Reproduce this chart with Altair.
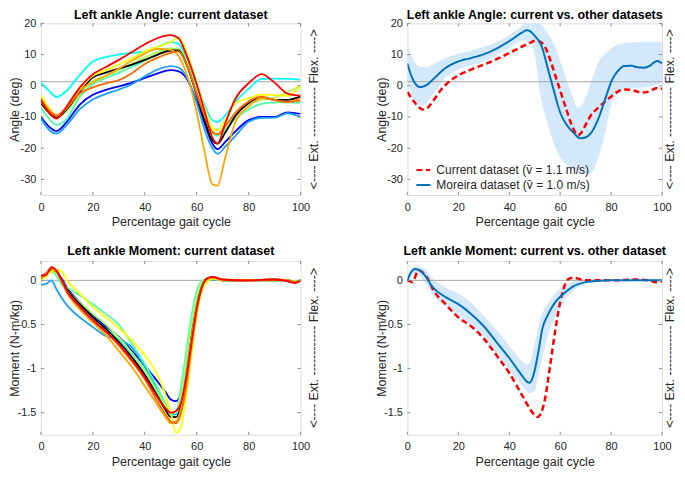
import altair as alt
import pandas as pd

FONT = "Liberation Sans"
TXT = "#262626"
FRAME = "#8c8c8c"
ZERO = "#a6a6a6"
BAND = "#d3e9fb"

# ---------------- data ----------------
x_ticks = [0, 20, 40, 60, 80, 100]
angle_ticks = [-30, -20, -10, 0, 10, 20]
moment_ticks = [-1.5, -1, -0.5, 0]
angle_domain = [-35, 20]
moment_domain = [-1.75, 0.22]
angle_ref_line = [1.3]
moment_ref_line = [0.0]

panel_titles = [
    "Left ankle Angle: current dataset",
    "Left ankle Angle: current vs. other datasets",
    "Left ankle Moment: current dataset",
    "Left ankle Moment: current vs. other dataset",
]
x_title = "Percentage gait cycle"
angle_title = "Angle (deg)"
moment_title = "Moment (N-m/kg)"
side_label = ["<---- Ext. ------------ Flex. ---->"]

subject_colors = ["#0000ff", "#19a1ff", "#00ffff", "#4cffa8", "#aaff55",
                  "#000000", "#ffff00", "#ffa500", "#ff6a00", "#ff0000"]

# left ankle angle, current dataset (one curve per subject)
angle_x = [0, 3, 6, 10, 15, 20, 25, 30, 35, 40, 45, 50, 53, 56, 60, 63, 66, 68, 71, 75, 80, 85, 90, 95, 100]
ang_blue = [-10, -13, -14.5, -11.5, -6, -2.9, -1.3, -0.2, 1.0, 2.5, 4.0, 5.0, 4.6, 2.5, -5, -12, -18.5, -20.3, -18, -14.5, -11, -10, -10, -8.5, -9]
ang_lightblue = [-10.5, -14, -15.3, -12.5, -7.5, -4.4, -2.6, -1.2, 0.5, 3.0, 5.2, 6.3, 5.8, 3, -5.5, -14, -20, -21.8, -19.5, -16, -11.5, -10.3, -10.2, -8.8, -10]
ang_cyan = [1, -1.5, -3.6, -1.5, 3.5, 7.8, 9.2, 10.0, 10.5, 11.0, 12.5, 14, 13.5, 9, 0, -6, -11, -11.6, -9.5, -5, -1, 2.2, 2.3, 2.2, 2.0]
ang_aqua = [-7, -10.5, -12.5, -10.5, -3.5, 0.5, 2.5, 4.2, 6.0, 8.0, 10.0, 11.5, 11, 7, -3, -10, -15, -16, -14, -10.5, -7.5, -5.8, -5.3, -5.3, -5.5]
ang_lightgreen = [-6, -8.5, -10.2, -8, -2.5, 1.5, 3.3, 5.0, 7.0, 9.0, 10.8, 12, 11.8, 8, -2, -9.5, -14.5, -15.5, -13, -9, -6, -4.5, -3.8, -2, 0]
ang_black = [-5.5, -8.5, -10.1, -7.5, -2.0, 2.7, 4.2, 5.5, 6.8, 8.3, 10.0, 11.3, 11.3, 7, -3, -11, -17.5, -18.5, -15, -9.5, -5.5, -3.8, -4.5, -4.5, -3.5]
ang_yellow = [-3, -7, -9.5, -7, -1, 3.2, 5.0, 6.8, 8.8, 11.0, 12.5, 14, 15.5, 11, 1, -7, -13.5, -14.2, -11, -5.5, -4, -2.8, -3, -3.2, 0]
ang_orange = [-4, -7.5, -9.6, -7, -1.5, 1.2, 3.2, 5.5, 8.0, 10.3, 11.8, 11.5, 9.5, 4, -8.5, -21, -31.5, -32, -23, -11.5, -6.6, -4, -4.5, -5.2, -4]
ang_darkorange = [-5, -8, -9.5, -7, -2.5, -0.5, 0.8, 1.8, 4.0, 7.0, 9.0, 10.5, 11, 7, -2.5, -9.5, -14.8, -15.5, -13, -8.5, -5, -3.5, -4.6, -5.2, -4.7]
ang_red = [-4.5, -8.5, -10.5, -6.5, -0.5, 3.7, 6.0, 8.3, 10.8, 13.3, 15.3, 16.2, 15.2, 10, 0.5, -8, -16.5, -18.5, -12, -4, 0.8, 3.7, 1, -2.5, -3.2]
angle_subjects = [ang_blue, ang_lightblue, ang_cyan, ang_aqua, ang_lightgreen,
                  ang_black, ang_yellow, ang_orange, ang_darkorange, ang_red]

# left ankle moment, current dataset
moment_x = [0, 2, 4, 6, 8, 10, 15, 20, 25, 30, 35, 40, 45, 48, 50, 52, 54, 56, 58, 60, 62, 64, 66, 70, 80, 90, 95, 98, 100]
mom_blue = [0.05, 0.08, 0.13, 0.1, 0.02, -0.08, -0.25, -0.4, -0.52, -0.64, -0.8, -0.97, -1.15, -1.27, -1.35, -1.37, -1.28, -0.95, -0.55, -0.25, -0.05, 0.01, 0.02, 0.0, 0.0, 0.0, 0.0, -0.01, 0.0]
mom_lightblue = [-0.05, -0.04, 0.0, -0.1, -0.2, -0.28, -0.42, -0.53, -0.63, -0.67, -0.76, -0.98, -1.25, -1.42, -1.5, -1.52, -1.38, -1.0, -0.58, -0.25, -0.05, 0.0, 0.01, 0.0, 0.0, 0.0, 0.0, -0.01, 0.0]
mom_cyan = [0.02, 0.06, 0.1, 0.08, -0.02, -0.12, -0.28, -0.42, -0.55, -0.68, -0.83, -1.02, -1.28, -1.43, -1.52, -1.55, -1.4, -1.05, -0.6, -0.27, -0.06, 0.0, 0.02, 0.0, 0.0, 0.0, 0.0, -0.01, 0.0]
mom_aqua = [0.0, 0.05, 0.1, 0.05, -0.05, -0.08, -0.17, -0.27, -0.38, -0.5, -0.72, -0.95, -1.22, -1.4, -1.5, -1.5, -1.2, -0.8, -0.4, -0.12, -0.01, 0.02, 0.02, 0.0, 0.0, 0.0, 0.0, -0.01, 0.0]
mom_lightgreen = [0.0, 0.05, 0.1, 0.08, 0.0, -0.1, -0.25, -0.38, -0.5, -0.65, -0.82, -1.02, -1.27, -1.42, -1.5, -1.5, -1.3, -0.9, -0.5, -0.18, -0.03, 0.02, 0.02, 0.0, 0.0, 0.0, 0.0, -0.01, 0.0]
mom_black = [0.02, 0.06, 0.12, 0.1, 0.0, -0.1, -0.27, -0.42, -0.55, -0.7, -0.87, -1.07, -1.32, -1.47, -1.55, -1.55, -1.42, -1.1, -0.65, -0.3, -0.07, 0.02, 0.03, 0.0, 0.0, 0.01, 0.0, -0.02, 0.0]
mom_yellow = [0.0, 0.05, 0.1, 0.12, 0.1, 0.0, -0.15, -0.3, -0.42, -0.54, -0.68, -0.85, -1.08, -1.3, -1.5, -1.73, -1.65, -1.3, -0.85, -0.4, -0.12, -0.02, 0.02, 0.0, 0.0, 0.01, 0.0, -0.02, 0.0]
mom_orange = [0.03, 0.07, 0.13, 0.1, -0.02, -0.14, -0.33, -0.48, -0.62, -0.8, -0.98, -1.2, -1.42, -1.55, -1.62, -1.6, -1.45, -1.1, -0.65, -0.3, -0.08, 0.01, 0.03, 0.0, 0.0, 0.0, 0.0, -0.02, 0.0]
mom_darkorange = [0.04, 0.08, 0.14, 0.11, 0.0, -0.12, -0.3, -0.45, -0.58, -0.74, -0.92, -1.12, -1.38, -1.52, -1.6, -1.62, -1.5, -1.2, -0.75, -0.35, -0.08, 0.02, 0.04, 0.01, 0.0, 0.01, 0.0, -0.02, 0.0]
mom_red = [0.05, 0.06, 0.15, 0.11, 0.0, -0.12, -0.3, -0.45, -0.58, -0.72, -0.9, -1.1, -1.33, -1.45, -1.5, -1.48, -1.38, -1.1, -0.7, -0.32, -0.08, 0.02, 0.04, 0.01, 0.0, 0.01, -0.01, -0.03, 0.0]
moment_subjects = [mom_blue, mom_lightblue, mom_cyan, mom_aqua, mom_lightgreen,
                   mom_black, mom_yellow, mom_orange, mom_darkorange, mom_red]

# comparison panels
series_names = ["Current dataset (v\u0304 = 1.1 m/s)", "Moreira dataset (v\u0304 = 1.0 m/s)"]
series_colors = ["#ff0000", "#0072bd"]

cur_ang_x = [0, 3, 6, 8, 10, 13, 15, 18, 20, 25, 30, 35, 40, 45, 48, 50, 52, 54, 56, 58, 60, 62, 64, 66, 67, 68, 70, 72, 75, 78, 80, 82, 85, 88, 90, 92, 95, 98, 100]
cur_ang_y = [-2, -5.5, -7.6, -7, -5, -1.5, 0.3, 2.3, 3.3, 5.2, 6.8, 8.5, 10.5, 12.5, 13.7, 14.3, 14.2, 12.5, 8.5, 3.5, -1.5, -6.5, -11.5, -15, -15.8, -15.3, -12.5, -9.5, -7, -4.8, -3.5, -2.2, -1.2, -1.3, -1.8, -2.2, -1.8, -0.7, -1]
mor_ang_x = [0, 2, 5, 8, 10, 15, 20, 25, 30, 35, 40, 45, 47, 50, 53, 55, 57, 60, 63, 65, 68, 70, 73, 75, 78, 80, 83, 85, 88, 90, 93, 95, 98, 100]
mor_ang_y = [7.1, 2.3, -0.4, 0.5, 2, 5.7, 7.8, 8.9, 10.1, 11.9, 14.3, 17.0, 17.8, 16, 12, 6, 0, -8.5, -13, -14.8, -16.8, -16.5, -14, -10.5, -3.5, 1.2, 5, 6.3, 6.4, 6, 5.8, 6.3, 7.9, 7.2]
mor_ang_band_x = [0, 2, 5, 8, 10, 15, 20, 25, 30, 35, 40, 45, 48, 50, 52, 55, 58, 60, 63, 65, 67, 69, 72, 75, 78, 80, 83, 85, 90, 95, 100]
mor_ang_hi = [12.8, 9, 6, 6, 6.8, 8.8, 10.3, 11.3, 12.4, 14, 16.2, 19.3, 21, 21, 20, 17, 12.5, 8, 1, -3.5, -7, -5.5, 1, 7.5, 10.5, 12, 13.2, 13.6, 14, 14.2, 14]
mor_ang_lo = [1.5, -3.5, -6.5, -5, -2.8, 2.5, 5.2, 6.5, 7.8, 9.8, 12, 14.5, 14.5, 10, -2, -12, -19.5, -23, -25.5, -26.5, -27.5, -28.3, -28, -23, -14, -6, -2, -1, -0.7, -0.3, 1]

cur_mom_x = [0, 2, 4, 5, 6, 8, 10, 15, 20, 25, 30, 35, 40, 45, 48, 50, 51, 52, 54, 56, 58, 60, 62, 63, 65, 67, 70, 80, 90, 95, 97, 100]
cur_mom_y = [0, -0.02, 0.1, 0.11, 0.09, 0.02, -0.1, -0.27, -0.42, -0.52, -0.66, -0.85, -1.05, -1.3, -1.45, -1.53, -1.55, -1.53, -1.35, -0.98, -0.58, -0.25, -0.04, 0.01, 0.03, 0.02, 0.0, 0.0, 0.01, 0.0, -0.02, -0.01]
mor_mom_x = [0, 1, 3, 5, 7, 10, 15, 20, 25, 30, 35, 40, 43, 45, 47, 48, 49, 50, 51.5, 53, 55, 58, 61, 65, 70, 75, 80, 90, 100]
mor_mom_y = [0.0, 0.07, 0.13, 0.11, 0.05, -0.08, -0.19, -0.27, -0.38, -0.52, -0.7, -0.88, -1.0, -1.08, -1.15, -1.16, -1.12, -1.02, -0.8, -0.55, -0.4, -0.25, -0.16, -0.07, -0.02, -0.005, 0.0, 0.0, 0.0]
mor_mom_band_x = [0, 1, 3, 5, 7, 10, 15, 20, 25, 30, 35, 40, 43, 45, 47, 48, 50, 52, 55, 58, 60, 63, 66, 70, 75, 80, 90, 100]
mor_mom_hi = [0.02, 0.1, 0.16, 0.16, 0.12, 0.02, -0.08, -0.15, -0.25, -0.4, -0.56, -0.74, -0.85, -0.92, -0.95, -0.93, -0.72, -0.45, -0.27, -0.15, -0.09, -0.04, -0.01, 0.0, 0.0, 0.0, 0.0, 0.0]
mor_mom_lo = [-0.02, 0.03, 0.08, 0.05, -0.03, -0.17, -0.3, -0.39, -0.51, -0.65, -0.84, -1.02, -1.13, -1.2, -1.26, -1.28, -1.25, -1.0, -0.65, -0.42, -0.3, -0.18, -0.1, -0.04, -0.01, 0.0, 0.0, 0.0]

# ---------------- layout ----------------
WA = 260      # left column plot width
WB = 255      # right column plot width
SIDE_A = 17   # distance of the Ext/Flex label from the right frame
SIDE_B = 12
H1 = 172
H2 = 174

LABEL_EXPR = "(datum.value < 0 ? '-' : '') + format(abs(datum.value), '~g')"
AX = dict(ticks=False, domain=False, grid=False, labelFlush=False,
          labelFont=FONT, labelFontSize=11, labelColor=TXT, labelExpr=LABEL_EXPR,
          titleFont=FONT, titleFontSize=12.5, titleFontWeight="normal", titleColor=TXT)


def xenc(field="x"):
    return alt.X(f"{field}:Q", scale=alt.Scale(domain=[0, 100], nice=False, zero=False),
                 axis=alt.Axis(values=x_ticks, title=x_title, labelPadding=6,
                               titlePadding=3.5, **AX))


def yenc(dom, ticks, title, field="y"):
    return alt.Y(f"{field}:Q", scale=alt.Scale(domain=dom, nice=False, zero=False),
                 axis=alt.Axis(values=ticks, title=title, labelPadding=5, titleX=-19,
                               titleAngle=270, titleBaseline="bottom", **AX))


def frame(W, H, side, dom, ticks, title, ref):
    X = xenc()
    Y = yenc(dom, ticks, title)
    xt = pd.DataFrame({"x": x_ticks})
    yt = pd.DataFrame({"y": ticks})
    rule = dict(color=FRAME, strokeWidth=1)
    layers = [
        alt.Chart(xt).mark_rule(**rule).encode(x=X, y=alt.value(H), y2=alt.value(H - 3)),
        alt.Chart(xt).mark_rule(**rule).encode(x=X, y=alt.value(0), y2=alt.value(3)),
        alt.Chart(yt).mark_rule(**rule).encode(y=Y, x=alt.value(0), x2=alt.value(3)),
        alt.Chart(yt).mark_rule(**rule).encode(y=Y, x=alt.value(W), x2=alt.value(W - 3)),
        alt.Chart(pd.DataFrame({"t": side_label})).mark_text(
            angle=270, align="center", baseline="alphabetic", font=FONT,
            fontSize=12.5, color=TXT).encode(x=alt.value(W + side), y=alt.value(H / 2), text="t:N"),
    ]
    ref_layer = alt.Chart(pd.DataFrame({"y": ref})).mark_rule(color=ZERO, strokeWidth=1).encode(y=Y)
    return layers, ref_layer


def title(text, off):
    return alt.TitleParams(text, font=FONT, fontSize=12.5, fontWeight="bold",
                           color="#000000", anchor="middle", offset=off)


def subject_panel(xs, curves, H, dom, ticks, ytitle, ref, ttl, off):
    fl, ref_layer = frame(WA, H, SIDE_A, dom, ticks, ytitle, ref)
    X = xenc()
    Y = yenc(dom, ticks, ytitle)
    lines = []
    for vals, col in zip(curves, subject_colors):
        df = pd.DataFrame({"x": xs, "y": vals})
        lines.append(alt.Chart(df).mark_line(color=col, strokeWidth=1.8,
                                             interpolate="monotone", clip=True).encode(x=X, y=Y))
    return alt.layer(ref_layer, *lines, *fl).properties(width=WA, height=H, title=title(ttl, off))


def compare_panel(bx, lo, hi, cx, cy, mx, my, H, dom, ticks, ytitle, ref, ttl, off, legend):
    fl, ref_layer = frame(WB, H, SIDE_B, dom, ticks, ytitle, ref)
    X = xenc()
    Y = yenc(dom, ticks, ytitle)
    band = alt.Chart(pd.DataFrame({"x": bx, "lo": lo, "hi": hi})).mark_area(
        color=BAND, opacity=1, interpolate="monotone", clip=True).encode(
        x=X, y=yenc(dom, ticks, ytitle, "lo"), y2="hi:Q")
    cur_df = pd.DataFrame({"x": cx, "y": cy, "s": series_names[0]})
    mor_df = pd.DataFrame({"x": mx, "y": my, "s": series_names[1]})
    if legend:
        leg = alt.Legend(orient="none", legendX=8, legendY=139, title=None, padding=0,
                         labelFont=FONT, labelFontSize=12, labelColor=TXT, symbolType="stroke",
                         symbolSize=196, symbolStrokeWidth=2, rowPadding=1, labelOffset=5)
        enc = dict(
            color=alt.Color("s:N", scale=alt.Scale(domain=series_names, range=series_colors), legend=leg),
            strokeDash=alt.StrokeDash("s:N", scale=alt.Scale(domain=series_names, range=[[6, 3.5], [1, 0]]), legend=leg),
        )
        cur = alt.Chart(cur_df).mark_line(strokeWidth=2.5, interpolate="monotone", clip=True).encode(x=X, y=Y, **enc)
        mor = alt.Chart(mor_df).mark_line(strokeWidth=2, interpolate="monotone", clip=True).encode(x=X, y=Y, **enc)
    else:
        cur = alt.Chart(cur_df).mark_line(color=series_colors[0], strokeDash=[6, 3.5], strokeWidth=2.5,
                                          interpolate="monotone", clip=True).encode(x=X, y=Y)
        mor = alt.Chart(mor_df).mark_line(color=series_colors[1], strokeWidth=2,
                                          interpolate="monotone", clip=True).encode(x=X, y=Y)
    return alt.layer(band, ref_layer, cur, mor, *fl).properties(width=WB, height=H, title=title(ttl, off))


A = subject_panel(angle_x, angle_subjects, H1, angle_domain, angle_ticks, angle_title,
                  angle_ref_line, panel_titles[0], -4)
B = compare_panel(mor_ang_band_x, mor_ang_lo, mor_ang_hi, cur_ang_x, cur_ang_y, mor_ang_x, mor_ang_y,
                  H1, angle_domain, angle_ticks, angle_title, angle_ref_line, panel_titles[1], -4, True)
C = subject_panel(moment_x, moment_subjects, H2, moment_domain, moment_ticks, moment_title,
                  moment_ref_line, panel_titles[2], 3)
D = compare_panel(mor_mom_band_x, mor_mom_lo, mor_mom_hi, cur_mom_x, cur_mom_y, mor_mom_x, mor_mom_y,
                  H2, moment_domain, moment_ticks, moment_title, moment_ref_line, panel_titles[3], 3, False)

RES = dict(color="independent", strokeDash="independent")
top = alt.hconcat(A, B, spacing=54).resolve_scale(**RES)
bottom = alt.hconcat(C, D, spacing=54).resolve_scale(**RES)
chart = alt.vconcat(top, bottom, spacing=15).resolve_scale(**RES).properties(
    padding={"left": 0, "top": 0, "right": 0, "bottom": 0}
).configure_view(stroke=FRAME, strokeWidth=1).configure(background="white")

chart.save("out.html", embed_options={"renderer": "svg", "actions": False})
